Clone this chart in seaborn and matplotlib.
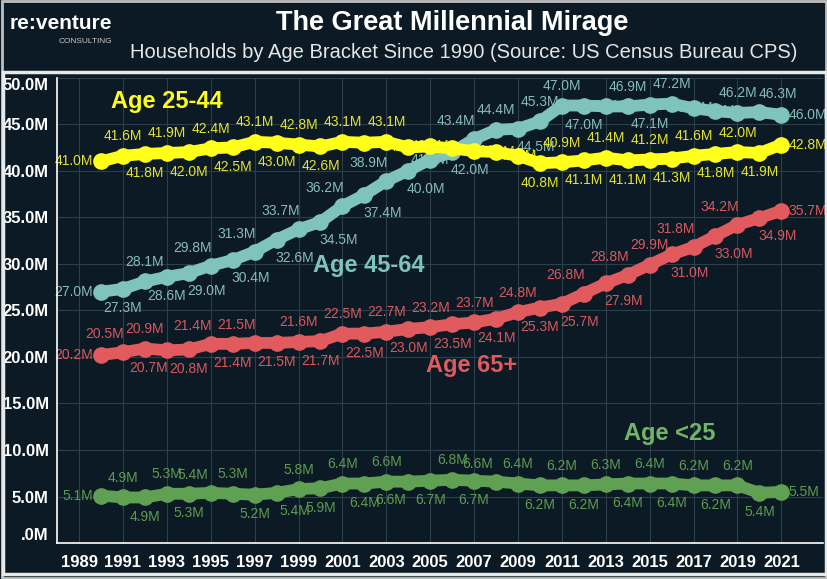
import numpy as np
import pandas as pd
import seaborn as sns
import matplotlib.pyplot as plt
from matplotlib.patches import Rectangle
from matplotlib.ticker import FuncFormatter

# ---------------------------------------------------------
# Data (millions of households, CPS)
# ---------------------------------------------------------
years = list(range(1990, 2022))

age_under_25 = [5.1, 4.9, 4.9, 5.3, 5.3, 5.4, 5.3, 5.2, 5.4, 5.8, 5.9, 6.4, 6.4, 6.6, 6.6, 6.7,
                6.8, 6.7, 6.6, 6.4, 6.2, 6.2, 6.2, 6.3, 6.4, 6.4, 6.4, 6.2, 6.2, 6.2, 5.4, 5.5]
age_25_44 = [41.0, 41.6, 41.8, 41.9, 42.0, 42.4, 42.5, 43.1, 43.0, 42.8, 42.6, 43.1, 43.0, 43.1, 42.5, 42.6,
             42.4, 42.1, 42.0, 41.6, 40.8, 40.9, 41.1, 41.4, 41.1, 41.2, 41.3, 41.6, 41.8, 42.0, 41.9, 42.8]
age_45_64 = [27.0, 27.3, 28.1, 28.6, 29.0, 29.8, 30.4, 31.3, 32.6, 33.7, 34.5, 36.2, 37.4, 38.9, 40.0, 41.2,
             42.0, 43.4, 44.4, 44.5, 45.3, 47.0, 47.0, 46.9, 46.9, 47.1, 47.2, 46.7, 46.4, 46.2, 46.3, 46.0]
age_65_plus = [20.2, 20.5, 20.9, 20.7, 20.8, 21.4, 21.4, 21.5, 21.5, 21.6, 21.7, 22.5, 22.5, 22.7, 23.0, 23.2,
               23.5, 23.7, 24.1, 24.8, 25.3, 25.7, 26.8, 27.9, 28.8, 29.9, 31.0, 31.8, 33.0, 34.2, 34.9, 35.7]

series_names = ["Age <25", "Age 65+", "Age 45-64", "Age 25-44"]
series_values = [age_under_25, age_65_plus, age_45_64, age_25_44]

# label placement per point (one letter per year)
# l=left r=right a=above b=below A=above-left B=below-right c=below-left D=above-right h=under the line
label_place = {
    "Age <25":   "lababAab" + "Bababacb" + "abAababa" + "babababr",
    "Age 65+":   "lAacbAbA" + "babababa" + "bababBAB" + "AaBABABr",
    "Age 45-64": "lbabBABA" + "BABABABh" + "BAaBaabh" + "abahhaDr",
    "Age 25-44": "labababa" + "babahahh" + "hhhhbaba" + "babababr",
}

line_colors = {"Age <25": "#5fa052", "Age 65+": "#e05a5e", "Age 45-64": "#7ec4bd", "Age 25-44": "#ffff1a"}
text_colors = {"Age <25": "#5e9a50", "Age 65+": "#d9585f", "Age 45-64": "#86bcb7", "Age 25-44": "#e3e336"}

df = pd.DataFrame({
    "year": years * len(series_names),
    "households": sum(series_values, []),
    "series": sum([[n] * len(years) for n in series_names], []),
})

# ---------------------------------------------------------
# Figure
# ---------------------------------------------------------
bg = "#0b1a24"
sns.set_style("dark")
plt.rcParams["font.family"] = ["Liberation Sans", "DejaVu Sans"]

fig = plt.figure(figsize=(8.28, 5.79), dpi=100, facecolor=bg)
ax = fig.add_axes([0.069, 0.062, 0.925, 0.804])
ax.set_facecolor(bg)

sns.lineplot(data=df, x="year", y="households", hue="series", hue_order=series_names,
             palette=line_colors, linewidth=8.5, marker="o", markersize=12,
             markeredgewidth=0, ax=ax, legend=False, zorder=3)

# point labels
offsets = {
    "l": ((-6, 0), "right", "center"),
    "r": ((5, 0), "left", "center"),
    "a": ((0, 9), "center", "bottom"),
    "b": ((0, -9), "center", "top"),
    "A": ((-13, 8), "center", "bottom"),
    "B": ((13, -8), "center", "top"),
    "c": ((-13, -8), "center", "top"),
    "D": ((13, 8), "center", "bottom"),
    "h": ((0, 0), "center", "center"),
}
for name, vals in zip(series_names, series_values):
    codes = label_place[name]
    for i, (yr, v) in enumerate(zip(years, vals)):
        xy_off, ha, va = offsets[codes[i]]
        ax.annotate(f"{v:.1f}M", (yr, v), xytext=xy_off, textcoords="offset points",
                    ha=ha, va=va, fontsize=10, color=text_colors[name], zorder=2)

# series names
ax.text(1993.0, 47.4, "Age 25-44", color="#ffff1a", fontsize=17, fontweight="bold", ha="center", va="center")
ax.text(2002.2, 29.8, "Age 45-64", color="#7ec4bd", fontsize=17, fontweight="bold", ha="center", va="center")
ax.text(2006.9, 19.1, "Age 65+", color="#e05a5e", fontsize=17, fontweight="bold", ha="center", va="center")
ax.text(2015.9, 11.8, "Age <25", color="#72b565", fontsize=17, fontweight="bold", ha="center", va="center")

# axes
ax.set_xlim(1988.0, 2022.9)
ax.set_ylim(0, 50)
ax.set_xticks(range(1989, 2022, 2))
ax.set_yticks(range(0, 51, 5))
ax.yaxis.set_major_formatter(FuncFormatter(lambda v, p: ".0M" if v == 0 else f"{v:.1f}M"))
ax.grid(True, color="#2c3f4a", linewidth=0.8)
ax.set_xlabel("")
ax.set_ylabel("")
ax.tick_params(colors="white", labelsize=12, length=5, width=1)
ax.tick_params(axis="y", pad=1)
fig.canvas.draw()
ylabels = ax.get_yticklabels()
for lab in ax.get_xticklabels() + ylabels:
    lab.set_fontweight("bold")
ylabels[0].set_va("bottom")
ylabels[-1].set_va("top")
for s in ["top", "right"]:
    ax.spines[s].set_visible(False)
for s in ["left", "bottom"]:
    ax.spines[s].set_color("white")
    ax.spines[s].set_linewidth(1.2)

# header
fig.text(0.546, 0.961, "The Great Millennial Mirage", color="white", fontsize=19.5,
         fontweight="bold", ha="center", va="center")
fig.text(0.560, 0.909, "Households by Age Bracket Since 1990 (Source: US Census Bureau CPS)",
         color="#e6e6e6", fontsize=14.5, ha="center", va="center")
fig.text(0.136, 0.960, "re:venture", color="white", fontsize=15, fontweight="bold",
         ha="right", va="center")
fig.text(0.136, 0.929, "CONSULTING", color="#cccccc", fontsize=6,
         family=["Liberation Sans Narrow", "Liberation Sans"], ha="right", va="center")

# frames
fig.patches.append(Rectangle((0.002, 0.002), 0.996, 0.996, transform=fig.transFigure,
                             fill=False, edgecolor="#bfbfbf", linewidth=2))
fig.patches.append(Rectangle((3 / 828, 5 / 579), 823 / 828, 502 / 579, transform=fig.transFigure,
                             fill=False, edgecolor="#e8e8e8", linewidth=2.5))

fig.savefig("out.png", dpi=100, facecolor=bg)
